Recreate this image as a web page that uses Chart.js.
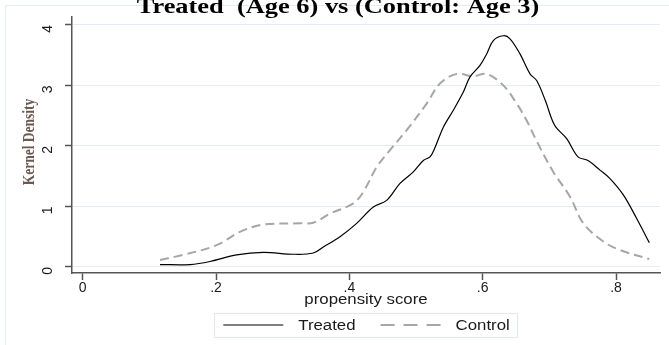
<!DOCTYPE html>
<html>
<head>
<meta charset="utf-8">
<script src="https://cdn.jsdelivr.net/npm/chart.js@4.4.1/dist/chart.umd.min.js"></script>
<style>
  html, body { margin: 0; padding: 0; background: #fff; }
  #wrap { position: relative; width: 669px; height: 345px; }
</style>
</head>
<body>
<div id="wrap"><canvas id="kd"></canvas></div>
<script>
// kernel density of the propensity score, treated vs control
const treatedX = [0.116, 0.161, 0.191, 0.231, 0.271, 0.316, 0.346, 0.361, 0.386, 0.411,
  0.436, 0.456, 0.476, 0.496, 0.511, 0.521, 0.528, 0.541, 0.556, 0.571,
  0.581, 0.596, 0.606, 0.616, 0.631, 0.641, 0.656, 0.671, 0.681, 0.694,
  0.708, 0.726, 0.743, 0.758, 0.776, 0.791, 0.811, 0.831, 0.850];
const treatedY = [0.04, 0.04, 0.09, 0.20, 0.24, 0.21, 0.23, 0.33, 0.50, 0.72,
  0.99, 1.10, 1.38, 1.57, 1.76, 1.82, 1.96, 2.31, 2.59, 2.89,
  3.14, 3.33, 3.52, 3.74, 3.82, 3.77, 3.52, 3.19, 3.08, 2.75,
  2.34, 2.12, 1.82, 1.76, 1.60, 1.46, 1.19, 0.80, 0.40];

const controlX = [0.116, 0.151, 0.201, 0.236, 0.271, 0.326, 0.346, 0.371, 0.406, 0.421,
  0.441, 0.461, 0.486, 0.516, 0.536, 0.561, 0.586, 0.606, 0.631, 0.651,
  0.666, 0.681, 0.706, 0.731, 0.751, 0.781, 0.806, 0.850];
const controlY = [0.115, 0.20, 0.36, 0.58, 0.70, 0.72, 0.73, 0.88, 1.05, 1.24,
  1.65, 1.93, 2.26, 2.70, 3.03, 3.19, 3.15, 3.19, 3.00, 2.70,
  2.42, 2.08, 1.57, 1.16, 0.72, 0.42, 0.28, 0.13];

const xTicks = [0, 0.2, 0.4, 0.6, 0.8];
const xTickLabels = ["0", ".2", ".4", ".6", ".8"];
const yTicks = [0, 1, 2, 3, 4];
const yTickLabels = ["0", "1", "2", "3", "4"];

const seriesNames = ["Treated", "Control"];
const titleText = "Treated  (Age 6) vs (Control: Age 3)";
const xTitle = "propensity score";
const yTitle = "Kernel Density";

const SANS = "'Liberation Sans', Arial, sans-serif";
const SERIF = "'Liberation Serif', 'Times New Roman', serif";
const INK = "#1a1a1a";
const CONTROL_GREY = "#a6a6a6";
const GRID = "#e3edf1";
const AXIS = "#555";
const WIDE = 1.2; // text in this graph is drawn a bit wide

const pts = (xs, ys) => xs.map((x, i) => ({ x, y: ys[i] }));

function wideText(ctx, text, x, y, align) {
  ctx.save();
  ctx.translate(x, y);
  ctx.scale(WIDE, 1);
  ctx.textAlign = align;
  ctx.fillText(text, 0, 0);
  ctx.restore();
}

// frame, titles and boxed legend drawn on top of the chart
const decorations = {
  id: "decorations",
  afterDraw(chart) {
    const { ctx, chartArea } = chart;
    const cx = (chartArea.left + chartArea.right) / 2;
    ctx.save();

    ctx.strokeStyle = "#e4ecf0";
    ctx.lineWidth = 1;
    ctx.strokeRect(5.5, 5.5, 670, 345);

    ctx.fillStyle = "#000";
    ctx.font = "bold 22px " + SERIF;
    ctx.textBaseline = "alphabetic";
    wideText(ctx, titleText, 338, 13, "center");

    // rotated axis title; glyphs widened across the page, i.e. taller once rotated
    ctx.save();
    ctx.translate(30, 142);
    ctx.rotate(-Math.PI / 2);
    ctx.scale(1, WIDE);
    ctx.filter = "blur(0.5px)";
    ctx.fillStyle = "#6b5a52";
    ctx.font = "bold 13.5px " + SERIF;
    ctx.textAlign = "center";
    ctx.textBaseline = "middle";
    ctx.fillText(yTitle, 0, 0);
    ctx.restore();

    ctx.fillStyle = INK;
    ctx.font = "14px " + SANS;
    ctx.textBaseline = "middle";
    wideText(ctx, xTitle, cx, 300, "center");

    // legend
    const sample = 60, gapText = 15, gapItem = 25, padL = 9, padR = 8;
    const items = chart.data.datasets.map((d) => ({ d, w: ctx.measureText(d.label).width * WIDE }));
    const inner = items.reduce((s, it) => s + sample + gapText + it.w, 0) + gapItem * (items.length - 1);
    const boxW = inner + padL + padR;
    const boxL = cx - boxW / 2;
    const boxT = 313, boxH = 24, midY = boxT + boxH / 2;
    ctx.strokeStyle = "#e2e9ec";
    ctx.strokeRect(Math.round(boxL) + 0.5, boxT + 0.5, Math.round(boxW), boxH);
    let x = boxL + padL;
    items.forEach(({ d, w }) => {
      ctx.beginPath();
      ctx.strokeStyle = d.borderColor;
      ctx.lineWidth = d.borderWidth;
      ctx.setLineDash(d.label === seriesNames[1] ? [14, 9] : []);
      ctx.moveTo(x, midY);
      ctx.lineTo(x + sample, midY);
      ctx.stroke();
      ctx.setLineDash([]);
      x += sample + gapText;
      ctx.fillStyle = INK;
      wideText(ctx, d.label, x, midY + 1, "left");
      x += w + gapItem;
    });

    ctx.restore();
  },
};

new Chart(document.getElementById("kd"), {
  type: "line",
  data: {
    datasets: [
      {
        label: seriesNames[0],
        data: pts(treatedX, treatedY),
        borderColor: "#000",
        borderWidth: 1.2,
        pointRadius: 0,
        tension: 0.35,
        fill: false,
      },
      {
        label: seriesNames[1],
        data: pts(controlX, controlY),
        borderColor: CONTROL_GREY,
        borderWidth: 2,
        borderDash: [9, 5],
        pointRadius: 0,
        tension: 0.35,
        fill: false,
      },
    ],
  },
  options: {
    responsive: true,
    maintainAspectRatio: false,
    animation: false,
    layout: { padding: { top: 17, right: 9, left: 0, bottom: 0 } },
    plugins: { legend: { display: false }, title: { display: false }, tooltip: { enabled: false } },
    scales: {
      x: {
        type: "linear",
        min: -0.016,
        max: 0.866,
        afterBuildTicks: (s) => { s.ticks = xTicks.map((v) => ({ value: v })); },
        afterFit: (s) => {
          s.height = 72;
          s.paddingLeft = 0;
          s.paddingRight = 0;
        },
        grid: { drawOnChartArea: false, tickLength: 7, tickColor: AXIS, tickWidth: 1.5 },
        border: { color: AXIS, width: 1.5 },
        ticks: {
          color: INK,
          font: { family: SANS, size: 14 },
          padding: 0,
          maxRotation: 0,
          callback: (v, i) => xTickLabels[i],
        },
      },
      y: {
        type: "linear",
        min: -0.1,
        max: 4.13,
        afterBuildTicks: (s) => { s.ticks = yTicks.map((v) => ({ value: v })); },
        afterFit: (s) => {
          s.width = 72;
          // plot edges are set by the layout padding, not by the tick labels
          s.paddingTop = 0;
          s.paddingBottom = 0;
        },
        grid: { color: GRID, tickLength: 7, tickColor: AXIS, tickWidth: 1.5 },
        border: { color: AXIS, width: 1.5 },
        ticks: {
          color: INK,
          font: { family: SANS, size: 14 },
          padding: 17,
          minRotation: 90,
          maxRotation: 90,
          callback: (v, i) => yTickLabels[i],
        },
      },
    },
  },
  plugins: [decorations],
});
</script>
</body>
</html>
